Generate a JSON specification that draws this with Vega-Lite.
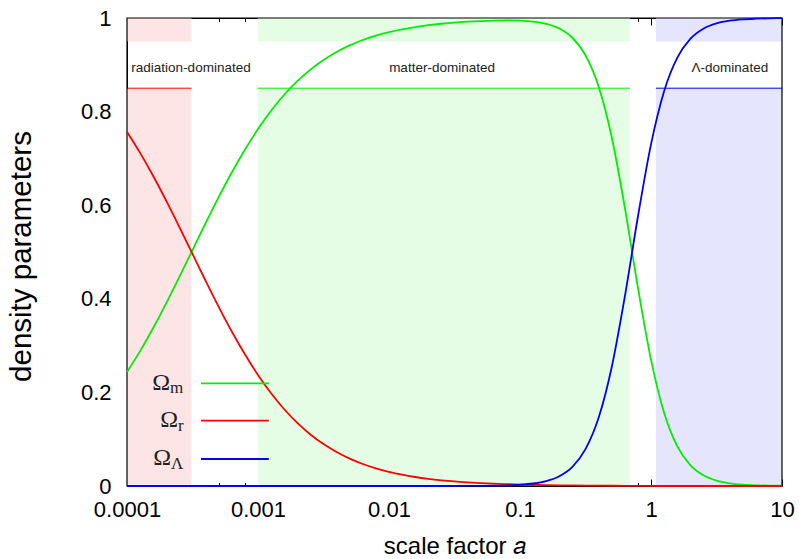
{
  "$schema": "https://vega.github.io/schema/vega-lite/v6.json",
  "width": 655,
  "height": 468,
  "autosize": "none",
  "padding": {"left": 127, "top": 18, "right": 17, "bottom": 73},
  "background": "white",
  "config": {
    "view": {"stroke": null},
    "font": "Liberation Sans",
    "axis": {
      "labelFont": "Liberation Sans",
      "labelFontSize": 22,
      "labelColor": "black",
      "labelFlush": false,
      "labelOverlap": false,
      "domainColor": "black",
      "tickColor": "black",
      "tickWidth": 1,
      "titleFont": "Liberation Sans",
      "titleFontWeight": "normal",
      "titleColor": "black",
      "grid": false,
      "zindex": 0
    }
  },
  "datasets": {
    "omega": [
      {"a": 0.0001, "m": 0.2433, "r": 0.7567, "L": 0},
      {"a": 0.00012589, "m": 0.2882, "r": 0.7118, "L": 0},
      {"a": 0.00015849, "m": 0.3376, "r": 0.6624, "L": 0},
      {"a": 0.00019953, "m": 0.3908, "r": 0.6092, "L": 0},
      {"a": 0.00025119, "m": 0.4468, "r": 0.5532, "L": 0},
      {"a": 0.00031623, "m": 0.5042, "r": 0.4958, "L": 0},
      {"a": 0.00039811, "m": 0.5614, "r": 0.4386, "L": 0},
      {"a": 0.00050119, "m": 0.6171, "r": 0.3829, "L": 0},
      {"a": 0.00063096, "m": 0.6698, "r": 0.3302, "L": 0},
      {"a": 0.00079433, "m": 0.7186, "r": 0.2814, "L": 0},
      {"a": 0.001, "m": 0.7628, "r": 0.2372, "L": 0},
      {"a": 0.0012589, "m": 0.8019, "r": 0.1981, "L": 0},
      {"a": 0.0015849, "m": 0.836, "r": 0.164, "L": 0},
      {"a": 0.0019953, "m": 0.8651, "r": 0.1349, "L": 0},
      {"a": 0.0025119, "m": 0.8898, "r": 0.1102, "L": 0},
      {"a": 0.0031623, "m": 0.9105, "r": 0.0895, "L": 0},
      {"a": 0.0039811, "m": 0.9275, "r": 0.0725, "L": 0},
      {"a": 0.0050119, "m": 0.9416, "r": 0.0584, "L": 0},
      {"a": 0.0063096, "m": 0.953, "r": 0.047, "L": 0},
      {"a": 0.0079433, "m": 0.9623, "r": 0.0377, "L": 0},
      {"a": 0.01, "m": 0.9698, "r": 0.0302, "L": 0.000003},
      {"a": 0.012589, "m": 0.9759, "r": 0.0241, "L": 0.000005},
      {"a": 0.015849, "m": 0.9807, "r": 0.0192, "L": 0.00001},
      {"a": 0.019953, "m": 0.9846, "r": 0.0153, "L": 0.00002},
      {"a": 0.025119, "m": 0.9877, "r": 0.0122, "L": 0.00004},
      {"a": 0.031623, "m": 0.9902, "r": 0.0097, "L": 0.00008},
      {"a": 0.039811, "m": 0.9921, "r": 0.0078, "L": 0.00017},
      {"a": 0.050119, "m": 0.9935, "r": 0.0062, "L": 0.00034},
      {"a": 0.063096, "m": 0.9944, "r": 0.0049, "L": 0.00068},
      {"a": 0.079433, "m": 0.9948, "r": 0.0039, "L": 0.00135},
      {"a": 0.1, "m": 0.9942, "r": 0.0031, "L": 0.00269},
      {"a": 0.12589, "m": 0.9922, "r": 0.0025, "L": 0.00535},
      {"a": 0.15849, "m": 0.9874, "r": 0.0019, "L": 0.01063},
      {"a": 0.19953, "m": 0.9775, "r": 0.0015, "L": 0.02099},
      {"a": 0.25119, "m": 0.9578, "r": 0.0012, "L": 0.04104},
      {"a": 0.31623, "m": 0.9204, "r": 0.0009, "L": 0.07869},
      {"a": 0.39811, "m": 0.8537, "r": 0.0007, "L": 0.14563},
      {"a": 0.50119, "m": 0.7457, "r": 0.0005, "L": 0.25382},
      {"a": 0.63096, "m": 0.5954, "r": 0.0003, "L": 0.40434},
      {"a": 0.79433, "m": 0.4245, "r": 0.0002, "L": 0.57528},
      {"a": 1, "m": 0.27, "r": 0.0001, "L": 0.7299},
      {"a": 1.2589, "m": 0.1564, "r": 0, "L": 0.8436},
      {"a": 1.5849, "m": 0.085, "r": 0, "L": 0.915},
      {"a": 1.9953, "m": 0.0445, "r": 0, "L": 0.9555},
      {"a": 2.5119, "m": 0.0228, "r": 0, "L": 0.9772},
      {"a": 3.1623, "m": 0.01156, "r": 0, "L": 0.9884},
      {"a": 3.9811, "m": 0.00583, "r": 0, "L": 0.9942},
      {"a": 5.0119, "m": 0.00293, "r": 0, "L": 0.9971},
      {"a": 6.3096, "m": 0.00147, "r": 0, "L": 0.9985},
      {"a": 7.9433, "m": 0.00074, "r": 0, "L": 0.9993},
      {"a": 10, "m": 0.00037, "r": 0, "L": 0.9996}
    ],
    "eras": [
      {"era": "r", "from": 0.0001, "to": 0.000311, "label": "radiation-dominated", "label_a": 0.000308},
      {"era": "m", "from": 0.001, "to": 0.69, "label": "matter-dominated", "label_a": 0.0254},
      {"era": "L", "from": 1.09, "to": 10, "label": "Λ-dominated", "label_a": 4.0}
    ],
    "anchor": [{}]
  },
  "resolve": {"axis": {"x": "independent"}},
  "layer": [
    {
      "data": {"name": "eras"},
      "mark": {"type": "rect"},
      "encoding": {
        "x": {
          "field": "from", "type": "quantitative",
          "scale": {"type": "log", "domain": [0.0001, 10], "nice": false},
          "axis": {
            "orient": "top", "labels": false, "title": null,
            "values": [0.0001, 0.0002, 0.0005, 0.0008, 0.001, 0.002, 0.005, 0.008, 0.01, 0.02, 0.05, 0.08, 0.1, 0.2, 0.5, 0.8, 1, 2, 5, 8, 10],
            "tickSize": {"condition": {"test": "indexof([0.0001, 0.001, 0.01, 0.1, 1, 10], datum.value) >= 0", "value": -7}, "value": -3.5}
          }
        },
        "x2": {"field": "to"},
        "y": {
          "datum": 0, "type": "quantitative",
          "scale": {"domain": [0, 1], "nice": false, "zero": false},
          "axis": {
            "orient": "left",
            "values": [0, 0.2, 0.4, 0.6, 0.8, 1],
            "format": "~g",
            "tickSize": -7,
            "labelPadding": 23,
            "title": "density parameters",
            "titleFontSize": 29.5,
            "titleAngle": 270,
            "titleX": -97,
            "titleY": 238,
            "titleAlign": "center",
            "titleBaseline": "alphabetic"
          }
        },
        "y2": {"datum": 0.85},
        "fill": {
          "field": "era", "type": "nominal",
          "scale": {"domain": ["r", "m", "L"], "range": ["#fde5e5", "#e5fde5", "#e5e5fd"]},
          "legend": null
        }
      }
    },
    {
      "data": {"name": "eras"},
      "mark": {"type": "rect"},
      "encoding": {
        "x": {"field": "from", "type": "quantitative", "scale": {"type": "log", "domain": [0.0001, 10], "nice": false}, "axis": null},
        "x2": {"field": "to"},
        "y": {"datum": 0.95, "type": "quantitative"},
        "y2": {"datum": 1},
        "fill": {"field": "era", "type": "nominal", "legend": null}
      }
    },
    {
      "data": {"name": "eras"},
      "mark": {"type": "rule", "strokeWidth": 1},
      "encoding": {
        "x": {"field": "from", "type": "quantitative", "scale": {"type": "log", "domain": [0.0001, 10], "nice": false}, "axis": null},
        "x2": {"field": "to"},
        "y": {"datum": 0.85, "type": "quantitative"},
        "color": {
          "field": "era", "type": "nominal",
          "scale": {"domain": ["m", "r", "L"], "range": ["#00ee00", "#ff0000", "#0000ff"]},
          "legend": null
        }
      }
    },
    {
      "data": {"name": "eras"},
      "mark": {"type": "text", "font": "Liberation Sans", "fontSize": 13.5, "baseline": "alphabetic", "align": "center", "color": "#222222"},
      "encoding": {
        "x": {"field": "label_a", "type": "quantitative", "scale": {"type": "log", "domain": [0.0001, 10], "nice": false}, "axis": null},
        "y": {"datum": 0.885, "type": "quantitative"},
        "text": {"field": "label"}
      }
    },
    {
      "data": {"name": "anchor"},
      "mark": {"type": "rect", "fill": "transparent", "stroke": "black", "strokeWidth": 1.2},
      "encoding": {
        "x": {"datum": 0.0001, "type": "quantitative", "scale": {"type": "log", "domain": [0.0001, 10], "nice": false}, "axis": null},
        "x2": {"datum": 10},
        "y": {"datum": 0, "type": "quantitative"},
        "y2": {"datum": 1}
      }
    },
    {
      "data": {"name": "omega"},
      "transform": [{"fold": ["m", "r", "L"], "as": ["component", "omega"]}],
      "mark": {"type": "line", "interpolate": "monotone", "strokeWidth": 1.8},
      "encoding": {
        "x": {
          "field": "a", "type": "quantitative",
          "scale": {"type": "log", "domain": [0.0001, 10], "nice": false},
          "axis": {
            "orient": "bottom",
            "values": [0.0001, 0.0002, 0.0005, 0.0008, 0.001, 0.002, 0.005, 0.008, 0.01, 0.02, 0.05, 0.08, 0.1, 0.2, 0.5, 0.8, 1, 2, 5, 8, 10],
            "format": "~g",
            "labelExpr": "indexof([0.0001, 0.001, 0.01, 0.1, 1, 10], datum.value) >= 0 ? datum.label : ''",
            "tickSize": {"condition": {"test": "indexof([0.0001, 0.001, 0.01, 0.1, 1, 10], datum.value) >= 0", "value": -7}, "value": -3.5},
            "labelPadding": 20,
            "title": "scale factor 𝑎",
            "titleFontSize": 24,
            "titleX": 327.5,
            "titleY": 67,
            "titleAlign": "center",
            "titleBaseline": "alphabetic"
          }
        },
        "y": {"field": "omega", "type": "quantitative"},
        "color": {"field": "component", "type": "nominal", "legend": null},
        "detail": {"field": "component"}
      }
    },
    {
      "data": {"name": "anchor"},
      "mark": {"type": "rule", "strokeWidth": 1.8},
      "encoding": {
        "x": {"datum": 0.000367, "type": "quantitative", "scale": {"type": "log", "domain": [0.0001, 10], "nice": false}, "axis": null},
        "x2": {"datum": 0.00121},
        "y": {"datum": 0.2194, "type": "quantitative"},
        "color": {"datum": "m", "type": "nominal", "legend": null}
      }
    },
    {
      "data": {"name": "anchor"},
      "mark": {"type": "rule", "strokeWidth": 1.8},
      "encoding": {
        "x": {"datum": 0.000367, "type": "quantitative", "scale": {"type": "log", "domain": [0.0001, 10], "nice": false}, "axis": null},
        "x2": {"datum": 0.00121},
        "y": {"datum": 0.1395, "type": "quantitative"},
        "color": {"datum": "r", "type": "nominal", "legend": null}
      }
    },
    {
      "data": {"name": "anchor"},
      "mark": {"type": "rule", "strokeWidth": 1.8},
      "encoding": {
        "x": {"datum": 0.000367, "type": "quantitative", "scale": {"type": "log", "domain": [0.0001, 10], "nice": false}, "axis": null},
        "x2": {"datum": 0.00121},
        "y": {"datum": 0.0577, "type": "quantitative"},
        "color": {"datum": "L", "type": "nominal", "legend": null}
      }
    },
    {
      "data": {"name": "anchor"},
      "mark": {"type": "text", "text": "Ω", "font": "Liberation Serif", "fontSize": 24, "align": "right", "baseline": "alphabetic", "dy": 6.5, "color": "#222222"},
      "encoding": {
        "x": {"datum": 0.0002129, "type": "quantitative", "scale": {"type": "log", "domain": [0.0001, 10], "nice": false}, "axis": null},
        "y": {"datum": 0.2194, "type": "quantitative"}
      }
    },
    {
      "data": {"name": "anchor"},
      "mark": {"type": "text", "text": "m", "font": "Liberation Serif", "fontSize": 17, "align": "left", "baseline": "alphabetic", "dy": 10, "color": "#222222"},
      "encoding": {
        "x": {"datum": 0.0002129, "type": "quantitative", "scale": {"type": "log", "domain": [0.0001, 10], "nice": false}, "axis": null},
        "y": {"datum": 0.2194, "type": "quantitative"}
      }
    },
    {
      "data": {"name": "anchor"},
      "mark": {"type": "text", "text": "Ω", "font": "Liberation Serif", "fontSize": 24, "align": "right", "baseline": "alphabetic", "dy": 6.5, "color": "#222222"},
      "encoding": {
        "x": {"datum": 0.000245, "type": "quantitative", "scale": {"type": "log", "domain": [0.0001, 10], "nice": false}, "axis": null},
        "y": {"datum": 0.1395, "type": "quantitative"}
      }
    },
    {
      "data": {"name": "anchor"},
      "mark": {"type": "text", "text": "r", "font": "Liberation Serif", "fontSize": 17, "align": "left", "baseline": "alphabetic", "dy": 10, "color": "#222222"},
      "encoding": {
        "x": {"datum": 0.000245, "type": "quantitative", "scale": {"type": "log", "domain": [0.0001, 10], "nice": false}, "axis": null},
        "y": {"datum": 0.1395, "type": "quantitative"}
      }
    },
    {
      "data": {"name": "anchor"},
      "mark": {"type": "text", "text": "Ω", "font": "Liberation Serif", "fontSize": 24, "align": "right", "baseline": "alphabetic", "dy": 6.5, "color": "#222222"},
      "encoding": {
        "x": {"datum": 0.0002168, "type": "quantitative", "scale": {"type": "log", "domain": [0.0001, 10], "nice": false}, "axis": null},
        "y": {"datum": 0.0577, "type": "quantitative"}
      }
    },
    {
      "data": {"name": "anchor"},
      "mark": {"type": "text", "text": "Λ", "font": "Liberation Serif", "fontSize": 17, "align": "left", "baseline": "alphabetic", "dy": 10, "color": "#222222"},
      "encoding": {
        "x": {"datum": 0.0002168, "type": "quantitative", "scale": {"type": "log", "domain": [0.0001, 10], "nice": false}, "axis": null},
        "y": {"datum": 0.0577, "type": "quantitative"}
      }
    }
  ]
}
